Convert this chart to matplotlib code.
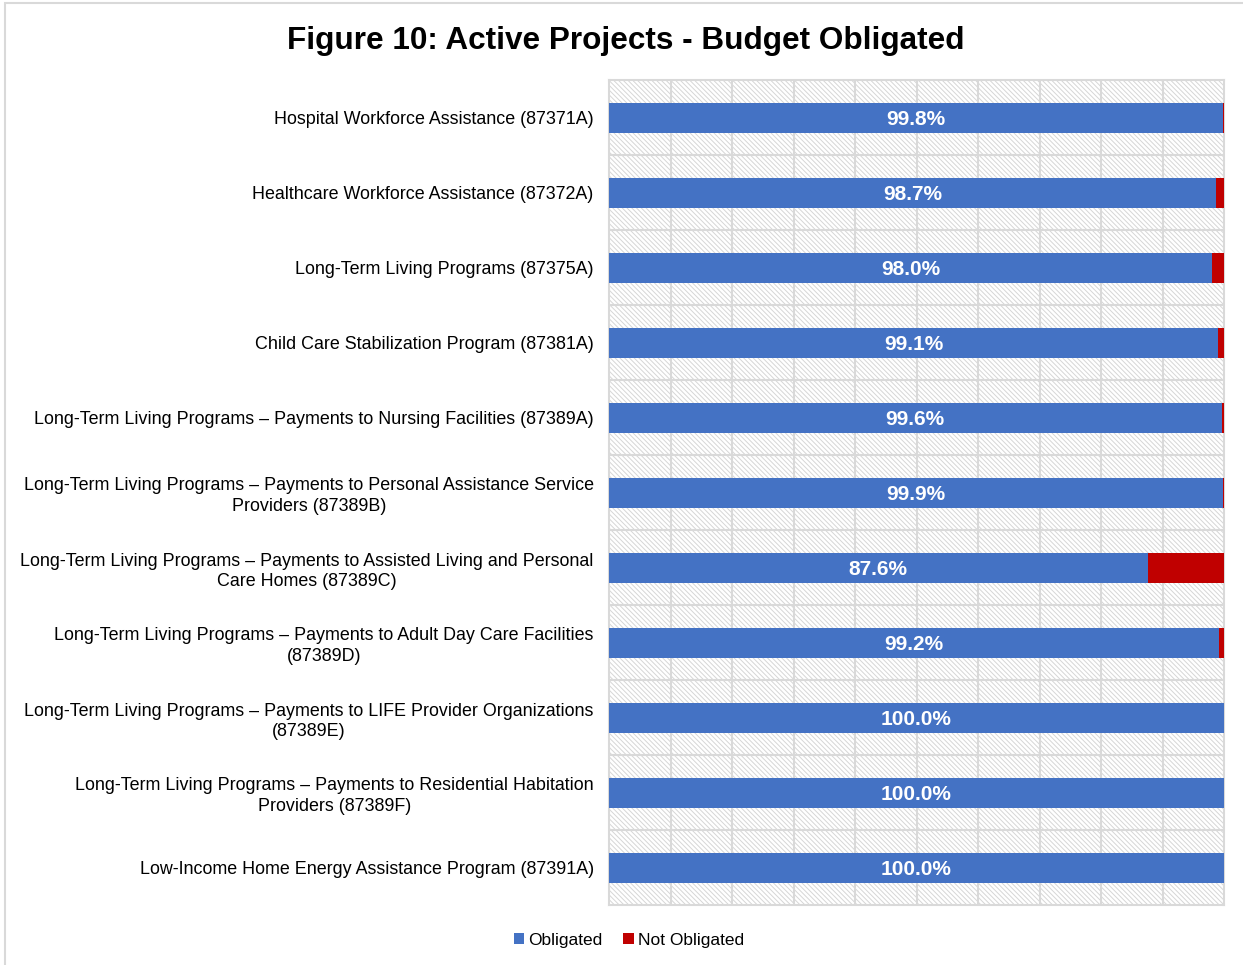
import matplotlib
matplotlib.use("Agg")
import matplotlib.pyplot as plt
from matplotlib.patches import Rectangle, Patch

plt.rcParams['font.family'] = ['Liberation Sans', 'DejaVu Sans']
plt.rcParams['hatch.linewidth'] = 0.7

title = "Figure 10: Active Projects - Budget Obligated"
categories = [
    "Hospital Workforce Assistance (87371A)",
    "Healthcare Workforce Assistance (87372A)",
    "Long-Term Living Programs (87375A)",
    "Child Care Stabilization Program (87381A)",
    "Long-Term Living Programs – Payments to Nursing Facilities (87389A)",
    "Long-Term Living Programs – Payments to Personal Assistance Service\nProviders (87389B)",
    "Long-Term Living Programs – Payments to Assisted Living and Personal\nCare Homes (87389C)",
    "Long-Term Living Programs – Payments to Adult Day Care Facilities\n(87389D)",
    "Long-Term Living Programs – Payments to LIFE Provider Organizations\n(87389E)",
    "Long-Term Living Programs – Payments to Residential Habitation\nProviders (87389F)",
    "Low-Income Home Energy Assistance Program (87391A)",
]
obligated = [99.8, 98.7, 98.0, 99.1, 99.6, 99.9, 87.6, 99.2, 100.0, 100.0, 100.0]
not_obligated = [round(100 - v, 1) for v in obligated]
series_names = ["Obligated", "Not Obligated"]
colors = ["#4472C4", "#C00000"]

W, H = 1243, 965
fig = plt.figure(figsize=(W / 100, H / 100), dpi=100)

# outer chart border
fig.patches.append(Rectangle((5 / W, -0.1), 1.2, 1.1 - 3 / H, transform=fig.transFigure,
                             fill=False, edgecolor="#d9d9d9", linewidth=1.5, zorder=0))

ax = fig.add_axes([609 / W, 1 - 905 / H, (1224 - 609) / W, (905 - 80) / H])

# hatched background
ax.add_patch(Rectangle((0, 0), 1, 1, transform=ax.transAxes, facecolor="white",
                       edgecolor="#d6d6d6", hatch="\\\\\\\\\\\\\\", linewidth=0, zorder=0))

y = list(range(len(categories)))
ax.barh(y, obligated, height=0.4, color=colors[0], zorder=3, label=series_names[0])
ax.barh(y, not_obligated, left=obligated, height=0.4, color=colors[1], zorder=3,
        label=series_names[1])

for i, v in enumerate(obligated):
    ax.text(v / 2, i, f"{v:.1f}%", ha="center", va="center_baseline", color="white",
            fontsize=15, fontweight="bold", zorder=4)

ax.set_xlim(0, 100)
ax.set_ylim(len(categories) - 0.5, -0.5)
ax.set_xticks([])
ax.set_yticks(y)
ax.set_yticklabels(categories, fontsize=12.9, color="#000000", multialignment="center",
                   linespacing=1.3)
ax.tick_params(axis="y", length=0, pad=11)

for xv in range(10, 100, 10):
    ax.axvline(xv, color="#d9d9d9", linewidth=1.5, zorder=1)
for i in range(len(categories) - 1):
    ax.axhline(i + 0.5, color="#d9d9d9", linewidth=1.5, zorder=1)
for s in ax.spines.values():
    s.set_color("#d9d9d9")
    s.set_linewidth(1.5)

fig.text(626 / W, 1 - 41 / H, title, ha="center", va="center", fontsize=22.7,
         fontweight="bold")

handles = [Patch(facecolor=colors[0]), Patch(facecolor=colors[1])]
fig.legend(handles, series_names, loc="center", bbox_to_anchor=(629 / W, 1 - 940 / H),
           ncol=2, frameon=False, fontsize=12.5, handlelength=0.6, handleheight=0.6,
           handletextpad=0.25, columnspacing=1.2)

fig.savefig("out.png", dpi=100)
